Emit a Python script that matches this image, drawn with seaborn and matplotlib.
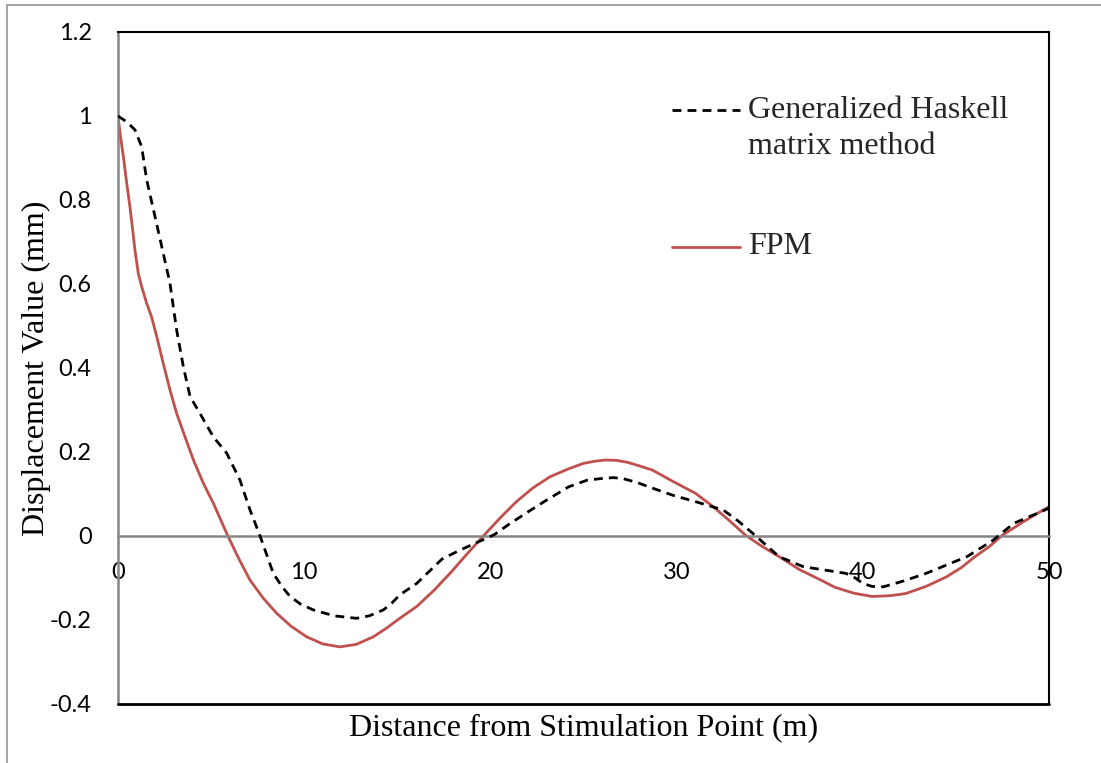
import matplotlib
matplotlib.use("Agg")
import matplotlib.pyplot as plt
from matplotlib.lines import Line2D
import seaborn as sns
import pandas as pd

# ---- data ----
fpm_x = [0, 0.107, 0.29, 0.465, 0.64, 0.788, 0.91, 1.09, 1.27, 1.54, 1.8, 2.08, 2.43,
         2.79, 3.15, 3.6, 4.05, 4.58, 5.12, 5.5, 5.9, 6.5, 7.09, 7.8, 8.52, 9.3,
         10.13, 11.0, 11.92, 12.8, 13.71, 14.4, 15.1, 16.04, 17.0, 17.83, 18.7, 19.62,
         20.5, 21.4, 22.3, 23.2, 24.2, 25.0, 25.6, 26.2, 26.8, 27.4, 28.0, 28.7, 29.8,
         31.0, 31.9, 32.8, 33.7, 34.6, 35.5, 36.6, 37.75, 38.5, 39.5, 40.5, 41.5,
         42.3, 43.4, 44.5, 45.3, 46.0, 46.8, 47.5, 48.7, 50]
fpm_y = [1.0, 0.960, 0.903, 0.841, 0.784, 0.729, 0.681, 0.625, 0.594, 0.554, 0.522,
         0.475, 0.411, 0.348, 0.292, 0.236, 0.181, 0.126, 0.078, 0.040, 0.0, -0.055,
         -0.105, -0.148, -0.184, -0.215, -0.240, -0.257, -0.264, -0.258, -0.240,
         -0.220, -0.197, -0.168, -0.128, -0.089, -0.045, 0.0, 0.042, 0.082, 0.115,
         0.141, 0.160, 0.173, 0.178, 0.181, 0.180, 0.175, 0.167, 0.157, 0.130, 0.102,
         0.072, 0.038, 0.002, -0.025, -0.049, -0.080, -0.105, -0.122, -0.136, -0.144,
         -0.142, -0.137, -0.120, -0.097, -0.075, -0.050, -0.025, 0.002, 0.036, 0.070]

hask_x = [0, 0.5, 0.91, 1.27, 1.54, 1.99, 2.35, 2.79, 3.15, 3.51, 3.87, 4.40, 5.12,
          5.84, 6.55, 7.09, 7.63, 8.34, 8.8, 9.24, 9.8, 10.49, 11.6, 12.81, 13.5,
          14.25, 14.7, 15.14, 16.04, 17.4, 18.3, 19.2, 20.2, 21.0, 21.9, 23.0, 24.2,
          25.2, 26.0, 26.6, 27.1, 27.9, 28.7, 29.8, 31.0, 32.5, 33.3, 34.1, 35.5, 36.8,
          39.1, 39.6, 40.0, 40.5, 41.1, 42.2, 43.4, 45.6, 47.0, 48.1, 50]
hask_y = [1.0, 0.985, 0.967, 0.927, 0.848, 0.760, 0.689, 0.602, 0.490, 0.403, 0.332,
          0.292, 0.236, 0.197, 0.133, 0.062, 0.0, -0.089, -0.120, -0.144, -0.162,
          -0.176, -0.190, -0.196, -0.190, -0.176, -0.160, -0.140, -0.113, -0.055,
          -0.035, -0.017, 0.003, 0.028, 0.054, 0.085, 0.117, 0.133, 0.137, 0.139,
          0.137, 0.127, 0.114, 0.097, 0.082, 0.062, 0.036, 0.006, -0.049, -0.073,
          -0.089, -0.100, -0.113, -0.120, -0.121, -0.107, -0.089, -0.049, -0.010,
          0.030, 0.066]

x_ticks = [0, 10, 20, 30, 40, 50]
y_ticks = [-0.4, -0.2, 0, 0.2, 0.4, 0.6, 0.8, 1.0, 1.2]
y_tick_labels = ["-0.4", "-0.2", "0", "0.2", "0.4", "0.6", "0.8", "1", "1.2"]

label_hask = "Generalized Haskell\nmatrix method"
label_fpm = "FPM"

# ---- styling ----
sns.set_theme(style="white")
plt.rcParams["font.family"] = ["Lato", "DejaVu Sans"]

RED = "#C0504D"
SERIF = ["Liberation Serif", "DejaVu Serif"]
DASH = (0, (3.2, 2.2))

fig = plt.figure(figsize=(11.01, 7.63), dpi=100)
ax = fig.add_axes([118 / 1101, 1 - 704 / 763, (1049 - 118) / 1101, (704 - 32) / 763])

df_h = pd.DataFrame({"x": hask_x, "y": hask_y})
df_f = pd.DataFrame({"x": fpm_x, "y": fpm_y})

sns.lineplot(data=df_h, x="x", y="y", ax=ax, color="black", lw=2.0,
             linestyle=DASH, sort=False, estimator=None, zorder=3)
sns.lineplot(data=df_f, x="x", y="y", ax=ax, color=RED, lw=2.0,
             sort=False, estimator=None, zorder=2)

ax.set_xlim(0, 50)
ax.set_ylim(-0.4, 1.2)

# spines: bottom spine moved to y=0 (gray), frame line at -0.4 drawn separately
for s in ["top", "right"]:
    ax.spines[s].set_color("black")
    ax.spines[s].set_linewidth(1.5)
ax.spines["left"].set_color("#868686")
ax.spines["left"].set_linewidth(1.8)
ax.spines["bottom"].set_position(("data", 0))
ax.spines["bottom"].set_color("#868686")
ax.spines["bottom"].set_linewidth(1.8)
ax.axhline(-0.4, color="black", lw=2.0, clip_on=False, zorder=4)

ax.set_xticks(x_ticks)
ax.set_xticklabels([str(v) for v in x_ticks])
ax.set_yticks(y_ticks)
ax.set_yticklabels(y_tick_labels)
ax.tick_params(axis="x", length=0, pad=19, labelsize=17, colors="black")
ax.tick_params(axis="y", length=0, pad=19, labelsize=17, colors="black")
ax.grid(False)

ax.set_xlabel("Distance from Stimulation Point (m)", fontsize=23, family=SERIF,
              color="black")
ax.xaxis.set_label_coords(0.5, -(728 - 704) / 672, transform=ax.transAxes)
ax.xaxis.label.set_va("center")
ax.set_ylabel("Displacement Value (mm)", fontsize=23, family=SERIF, color="black")
ax.yaxis.set_label_coords(-(118 - 36) / 931, 0.5)
ax.yaxis.label.set_va("center")


# ---- legend (Excel style: handle aligned with first text line) ----
def fx(px):
    return (px - 118) / 931


def fy(py):
    return (704 - py) / 672


ax.add_line(Line2D([fx(672), fx(740)], [fy(110), fy(110)], transform=ax.transAxes,
                   color="black", lw=2.0, linestyle=DASH, clip_on=False))
ax.add_line(Line2D([fx(672), fx(740)], [fy(247), fy(247)], transform=ax.transAxes,
                   color=RED, lw=2.0, clip_on=False))
ax.text(fx(748), fy(110), label_hask.split("\n")[0], transform=ax.transAxes,
        fontsize=23, family=SERIF, va="center", ha="left")
ax.text(fx(748), fy(146), label_hask.split("\n")[1], transform=ax.transAxes,
        fontsize=23, family=SERIF, va="center", ha="left")
ax.text(fx(748), fy(247), label_fpm, transform=ax.transAxes,
        fontsize=23, family=SERIF, va="center", ha="left")

# outer chart-area border (visible on top and left only)
fig.add_artist(Line2D([7 / 1101, 1], [1 - 5 / 763, 1 - 5 / 763],
                      transform=fig.transFigure, color="#A6A6A6", lw=1.5))
fig.add_artist(Line2D([7 / 1101, 7 / 1101], [0, 1 - 5 / 763],
                      transform=fig.transFigure, color="#A6A6A6", lw=1.5))

fig.savefig("out.png", dpi=100)
